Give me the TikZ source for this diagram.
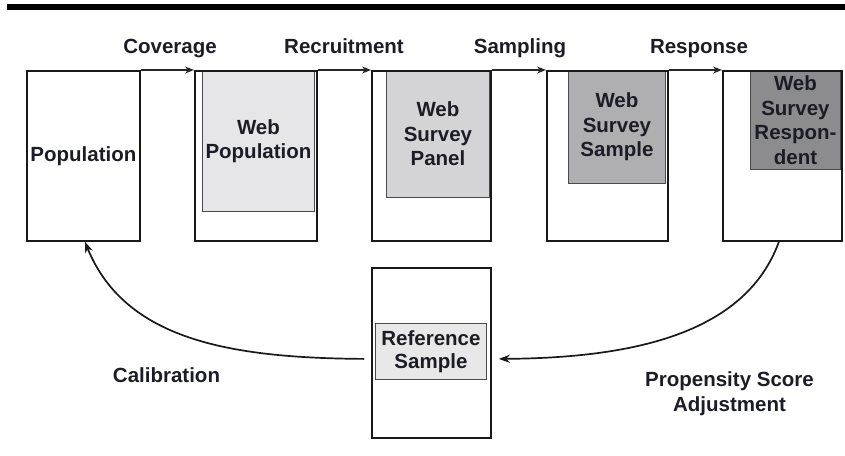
\documentclass[tikz,border=0pt]{standalone}
\usepackage{fontspec}
\setmainfont{Liberation Sans}
\usetikzlibrary{arrows.meta}
\definecolor{txt}{HTML}{1C1C26}
\definecolor{fillA}{HTML}{E6E6E8}
\definecolor{fillB}{HTML}{D4D4D6}
\definecolor{fillC}{HTML}{AFAFB1}
\definecolor{fillD}{HTML}{8C8C8E}
\definecolor{fillR}{HTML}{E8E8E8}
\definecolor{edgeI}{HTML}{4A4A4E}
\tikzset{
  outerbox/.style={draw=black!90, line width=1.8pt, minimum height=170pt, inner sep=0pt, anchor=north west},
  innerbox/.style={draw=edgeI, line width=0.9pt, inner sep=0pt, anchor=north west, align=center,
     text=txt, font=\fontsize{20.5}{24.5}\selectfont\bfseries},
  boxtext/.style={text=txt, font=\fontsize{20.5}{24.5}\selectfont\bfseries, align=center},
  lbl/.style={text=txt, font=\fontsize{20.5}{25}\selectfont\bfseries, align=center, inner sep=0pt},
  flow/.style={line width=1.3pt, black!85, -{Stealth[length=9pt,width=7pt]}},
  curveflow/.style={line width=1.7pt, black!90, -{Stealth[length=11pt,width=8pt]}},
}
\begin{document}
\begin{tikzpicture}[x=1pt,y=-1pt]
\useasboundingbox (0,0) rectangle (845,455);
% top rule
\fill[black] (7,4) rectangle (845,10);
% inner shaded boxes
\node[innerbox, fill=fillA, minimum width=112pt, minimum height=141pt] (wpi) at (202,70) {Web\\Population};
\node[innerbox, fill=fillB, minimum width=103pt, minimum height=127pt] (pai) at (386,70) {Web\\Survey\\Panel};
\node[innerbox, fill=fillC, minimum width=97pt, minimum height=113pt] (sai) at (568,70) {Web\\Survey\\Sample};
\node[innerbox, fill=fillD, minimum width=90pt, minimum height=99pt] (rei) at (750,70) {Web\\Survey\\Respon-\\dent};
\node[innerbox, fill=fillR, minimum width=111pt, minimum height=56pt, font=\fontsize{20.5}{23}\selectfont\bfseries] (refi) at (375,323) {Reference\\Sample};
% outer boxes
\node[outerbox, minimum width=113pt, boxtext] (pop) at (26,70) {};
\node[boxtext] (poptxt) at (pop.center) {Population};
\node[outerbox, minimum width=122pt] (wp) at (194,70) {};
\node[outerbox, minimum width=119pt] (panel) at (371,70) {};
\node[outerbox, minimum width=121pt] (sample) at (546,70) {};
\node[outerbox, minimum width=119pt] (resp) at (722,70) {};
\node[outerbox, minimum width=119pt] (ref) at (371,267) {};
% top flow arrows
\draw[flow] (pop.north east) -- (wp.north west);
\draw[flow] (wp.north east) -- (panel.north west);
\draw[flow] (panel.north east) -- (sample.north west);
\draw[flow] (sample.north east) -- (resp.north west);
% labels
\node[lbl, anchor=base] (lcov) at (170,53) {Coverage};
\node[lbl, anchor=base] (lrec) at (344,53) {Recruitment};
\node[lbl, anchor=base] (lsam) at (520,53) {Sampling};
\node[lbl, anchor=base] (lres) at (699,53) {Response};
\node[lbl, anchor=base] (lcal) at (166.5,382) {Calibration};
\node[lbl] (lpsa) at (729.5,394) {Propensity Score\\Adjustment};
% curved arrows
\coordinate (calstart) at ([yshift=-6pt,xshift=-7pt]ref.west);
\coordinate (calend) at ([xshift=1.5pt]pop.south);
\draw[curveflow] (calstart) .. controls (230,358) and (125,340) .. (calend);
\coordinate (psastart) at ([xshift=-3.5pt]resp.south);
\coordinate (psaend) at ([yshift=-6pt,xshift=7pt]ref.east);
\draw[curveflow] (psastart) .. controls (745,335) and (630,358) .. (psaend);
\end{tikzpicture}
\end{document}
